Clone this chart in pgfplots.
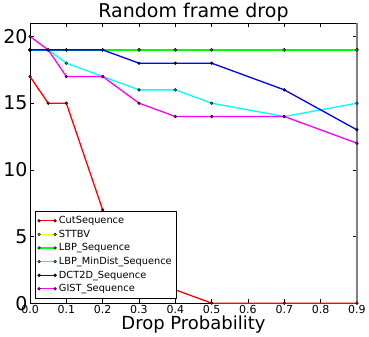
\documentclass[border=0pt]{standalone}
\usepackage{pgfplots}
\pgfplotsset{compat=1.18}
\usepackage{fontspec}
\setmainfont{DejaVu Sans}
\definecolor{mred}{RGB}{255,0,0}
\definecolor{myel}{RGB}{255,255,0}
\definecolor{mgreen}{RGB}{0,255,0}
\definecolor{mcyan}{RGB}{0,255,255}
\definecolor{mblue}{RGB}{0,0,255}
\definecolor{mmag}{RGB}{255,0,255}
\begin{document}
\begin{tikzpicture}
\begin{axis}[
  scale only axis,
  width=327bp, height=280bp,
  xmin=0, xmax=0.9, ymin=0, ymax=21,
  xtick={0,0.1,0.2,0.3,0.4,0.5,0.6,0.7,0.8,0.9},
  ytick={0,5,10,15,20},
  xticklabel style={font=\fontsize{11bp}{12bp}\selectfont, yshift=1bp},
  yticklabel style={font=\fontsize{19bp}{20bp}\selectfont, xshift=1bp},
  /pgf/number format/assume math mode=true,
  xticklabel={\pgfmathprintnumber[fixed,fixed zerofill,precision=1]{\tick}},
  tick align=inside, major tick length=4bp,
  tick style={black, line width=0.5bp},
  axis line style={black, line width=0.8bp},
  title={Random frame drop},
  title style={font=\fontsize{19bp}{20bp}\selectfont, yshift=-8bp},
  xlabel={Drop Probability},
  xlabel style={font=\fontsize{18bp}{19bp}\selectfont, yshift=5bp},
  every axis plot/.append style={line width=1.3bp, mark=*, mark size=1.4bp},
  legend image code/.code={\draw[#1] plot coordinates {(0bp,0bp) (16bp,0bp)};},
  legend style={at={(rel axis cs:0.015,0.017)}, anchor=south west,
    font=\fontsize{9.8bp}{10bp}\selectfont, draw=black, line width=0.6bp,
    row sep=0bp, inner sep=2.5bp, nodes={inner sep=2.4bp}},
  legend cell align=left,
  clip=false,
]
\addplot[mred, mark options={fill=mred!60!black, draw=black, line width=0.4bp}] coordinates {
(0,17) (0.05,15) (0.1,15) (0.2,7) (0.3,2) (0.4,1) (0.5,0) (0.7,0) (0.9,0)};
\addlegendentry{CutSequence}
\addplot[myel, mark options={fill=myel!60!black, draw=black, line width=0.4bp}] coordinates {
(0,19) (0.05,19) (0.1,19) (0.2,19) (0.3,19) (0.4,19) (0.5,19) (0.7,19) (0.9,19)};
\addlegendentry{STTBV}
\addplot[mgreen, mark options={fill=mgreen!60!black, draw=black, line width=0.4bp}] coordinates {
(0,19) (0.05,19) (0.1,19) (0.2,19) (0.3,19) (0.4,19) (0.5,19) (0.7,19) (0.9,19)};
\addlegendentry{LBP\_Sequence}
\addplot[mcyan, mark options={fill=mcyan!60!black, draw=black, line width=0.4bp}] coordinates {
(0,19) (0.05,19) (0.1,18) (0.2,17) (0.3,16) (0.4,16) (0.5,15) (0.7,14) (0.9,15)};
\addlegendentry{LBP\_MinDist\_Sequence}
\addplot[mblue, mark options={fill=mblue!60!black, draw=black, line width=0.4bp}] coordinates {
(0,19) (0.05,19) (0.1,19) (0.2,19) (0.3,18) (0.4,18) (0.5,18) (0.7,16) (0.9,13)};
\addlegendentry{DCT2D\_Sequence}
\addplot[mmag, mark options={fill=mmag!60!black, draw=black, line width=0.4bp}] coordinates {
(0,20) (0.05,19) (0.1,17) (0.2,17) (0.3,15) (0.4,14) (0.5,14) (0.7,14) (0.9,12)};
\addlegendentry{GIST\_Sequence}
\draw[gray, line width=1.6bp] (rel axis cs:1,0) -- (rel axis cs:1,1);
\end{axis}
\end{tikzpicture}
\end{document}
